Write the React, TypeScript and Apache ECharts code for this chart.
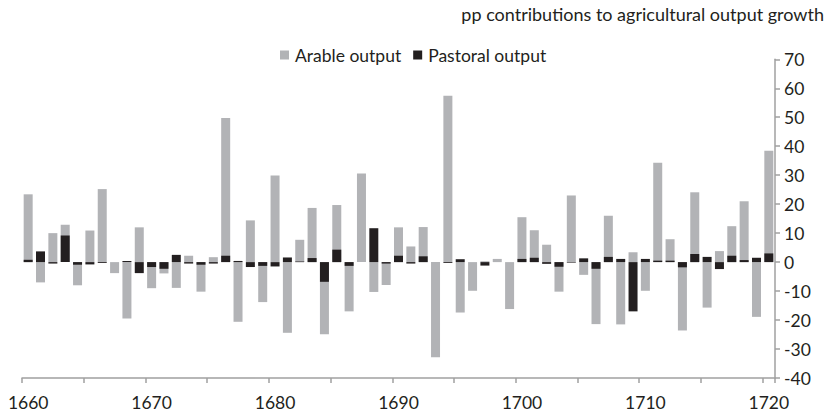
import React, { useEffect, useRef } from "react";
import * as echarts from "echarts";

const years: string[] = Array.from({ length: 61 }, (_, i) => String(1660 + i));

const arable: number[] = [
  23.4, -7.0, 10.0, 12.9, -8.0, 10.9, 25.2, -3.8, -19.5, 12.0,
  -9.0, -3.9, -8.9, 2.2, -10.2, 1.7, 49.7, -20.6, 14.4, -13.8,
  29.9, -24.4, 7.7, 18.7, -24.9, 19.7, -17.0, 30.6, -10.3, -7.9,
  12.0, 5.4, 12.1, -32.8, 57.4, -17.4, -9.9, 0.3, 1.1, -16.2,
  15.5, 11.0, 6.0, -10.2, 23.0, -4.4, -21.4, 16.0, -21.5, 3.4,
  -9.9, 34.3, 7.9, -23.6, 24.1, -15.7, 3.8, 12.4, 21.0, -18.9,
  38.4,
];

const pastoral: number[] = [
  0.8, 3.7, -0.5, 9.2, -0.9, -0.8, -0.3, 0, 0.4, -3.8,
  -1.7, -2.3, 2.5, -0.5, -0.9, -0.5, 2.2, 0.4, -1.7, -1.3,
  -1.5, 1.6, 0.2, 1.4, -6.8, 4.3, -1.3, 0, 11.7, -0.5,
  2.2, -0.5, 2.0, 0, -0.3, 1.0, 0, -1.2, 0, 0,
  1.1, 1.5, -0.6, -1.6, -0.2, 1.3, -2.3, 1.8, 1.1, -17.0,
  1.1, 0.5, 0.5, -1.8, 2.8, 1.8, -2.4, 2.2, 0.7, 1.5,
  3.0,
];

const seriesNames = ["Arable output", "Pastoral output"];
const yMin = -40;
const yMax = 70;
const yInterval = 10;
const titleText = "pp contributions to agricultural output growth";

const FONT = "Lato, 'Open Sans', sans-serif";
const TEXT = "#231f20";
const AXIS = "#a0a0a0";
const GREY = "#b2b3b6";
const BLACK = "#231f20";

export default function App() {
  const ref = useRef<HTMLDivElement>(null);
  useEffect(() => {
    if (!ref.current) return;
    const chart = echarts.init(ref.current, undefined, { renderer: "svg" });
    chart.setOption({
      animation: false,
      backgroundColor: "#ffffff",
      textStyle: { fontFamily: FONT, color: TEXT },
      title: {
        text: titleText,
        right: 4,
        top: 5,
        padding: 0,
        textStyle: { fontFamily: FONT, fontSize: 18, fontWeight: "normal", color: TEXT },
      },
      legend: {
        data: seriesNames,
        left: 280,
        top: 46,
        padding: 0,
        itemWidth: 9,
        itemHeight: 9,
        itemGap: 12,
        icon: "rect",
        textStyle: { fontFamily: FONT, fontSize: 17.5, color: TEXT, padding: [0, 0, 0, 1] },
      },
      grid: { left: 22, right: 53, top: 59.3, bottom: 32.7 },
      xAxis: {
        type: "category",
        data: years,
        boundaryGap: true,
        axisLine: { onZero: false, lineStyle: { color: AXIS, width: 1.5 } },
        axisTick: { show: true, interval: 4, length: 5, lineStyle: { color: AXIS, width: 1.5 } },
        axisLabel: {
          interval: 9,
          margin: 15,
          fontFamily: FONT,
          fontSize: 17.5,
          color: TEXT,
        },
        splitLine: { show: false },
      },
      yAxis: {
        type: "value",
        position: "right",
        min: yMin,
        max: yMax,
        interval: yInterval,
        axisLine: { show: true, lineStyle: { color: AXIS, width: 1.5 } },
        axisTick: { show: true, length: 5, lineStyle: { color: AXIS, width: 1.5 } },
        axisLabel: { margin: 9, fontFamily: FONT, fontSize: 17.5, color: TEXT },
        splitLine: { show: false },
      },
      series: [
        {
          name: seriesNames[0],
          type: "bar",
          data: arable,
          barWidth: 9,
          barGap: "-100%",
          itemStyle: { color: GREY },
        },
        {
          name: seriesNames[1],
          type: "bar",
          data: pastoral,
          barWidth: 9,
          barGap: "-100%",
          itemStyle: { color: BLACK },
        },
      ],
    });
    return () => chart.dispose();
  }, []);
  return (
    <div
      ref={ref}
      style={{ position: "absolute", left: 0, top: 0, width: 828, height: 411 }}
    />
  );
}
